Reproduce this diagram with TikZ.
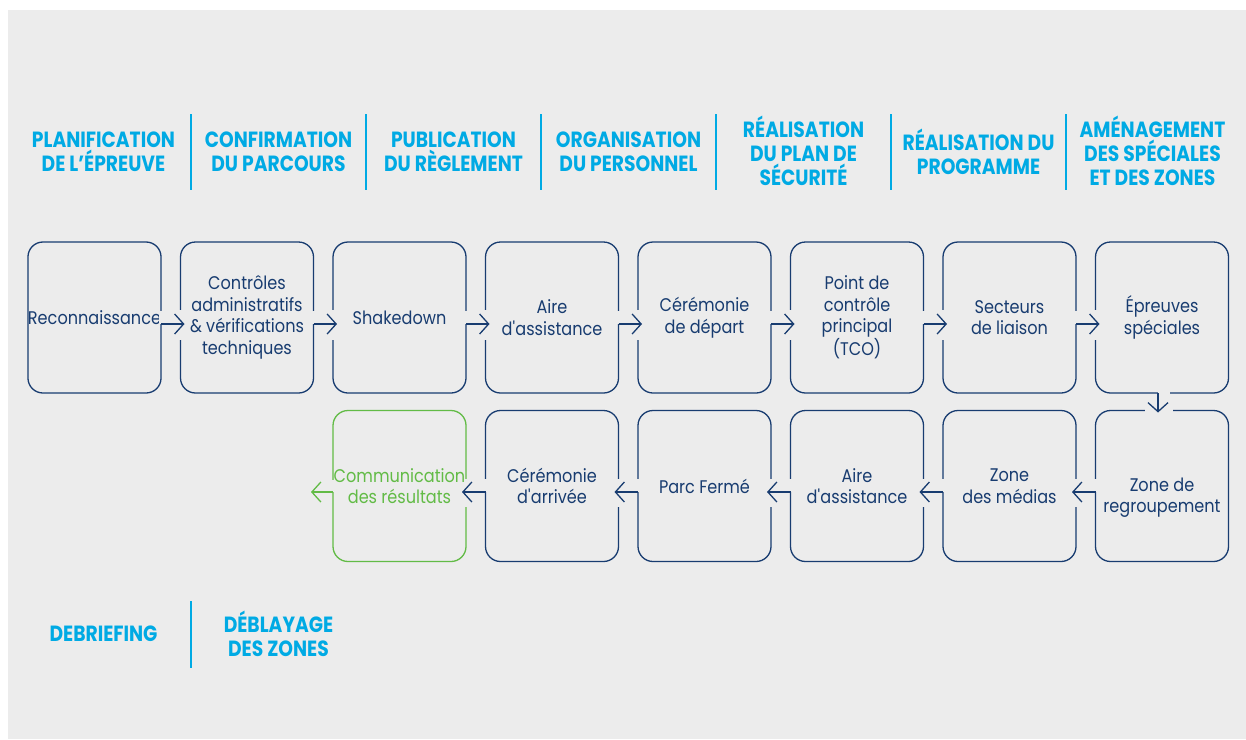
\documentclass[tikz,border=0pt]{standalone}
\usepackage{fontspec}
\newfontfamily\bodyfont{Poppins}[FakeStretch=0.88]
\newfontfamily\hdrfont{Poppins}[FakeStretch=0.85]
\usetikzlibrary{arrows.meta}
\definecolor{bgc}{RGB}{236,236,236}
\definecolor{cyanh}{RGB}{0,170,228}
\definecolor{navy}{RGB}{24,60,112}
\definecolor{grn}{RGB}{98,187,70}
\tikzset{
  box/.style={draw=navy, line width=1.3pt, rounded corners=15pt,
    minimum width=133pt, minimum height=151pt, inner sep=0pt, outer sep=0pt,
    align=center, text=navy, font=\bodyfont\fontsize{18.3}{21.5}\selectfont},
  gbox/.style={box, draw=grn, text=grn},
  txt/.style={align=center, text=navy, inner sep=0pt, font=\bodyfont\fontsize{18.3}{21.5}\selectfont},
  hdr/.style={text=cyanh, align=center, inner sep=0pt,
    font=\hdrfont\bfseries\fontsize{22}{24}\selectfont},
  sepline/.style={draw=cyanh, line width=1.5pt},
  gapc/.style={draw=bgc, line width=3.5pt},
  arr/.style={draw=navy, line width=1.3pt, -{Straight Barb[length=9pt,width=20pt]}},
  garr/.style={arr, draw=grn}
}
\begin{document}
\begin{tikzpicture}[x=1pt,y=-1pt]
\useasboundingbox (0,0) rectangle (1246,739);
\fill[bgc] (8,10) rectangle (1246,739);

% headers
\node[hdr] (h1) at (103.5,152) {PLANIFICATION\\DE L’ÉPREUVE};
\node[hdr] (h2) at (278.5,152) {CONFIRMATION\\DU PARCOURS};
\node[hdr] (h3) at (453.5,152) {PUBLICATION\\DU RÈGLEMENT};
\node[hdr] (h4) at (628.5,152) {ORGANISATION\\DU PERSONNEL};
\node[hdr] (h5) at (803.5,151) {RÉALISATION\\DU PLAN DE\\SÉCURITÉ};
\node[hdr] (h6) at (978.5,152) {RÉALISATION DU\\PROGRAMME};
\node[hdr] (h7) at (1152.5,151) {AMÉNAGEMENT\\DES SPÉCIALES\\ET DES ZONES};
\foreach \x in {191,366,541,716,891,1066} \draw[sepline] (\x,114) -- (\x,190);

% bottom headers
\node[hdr] (h8) at (103.5,634) {DEBRIEFING};
\node[hdr] (h9) at (278.5,634) {DÉBLAYAGE\\DES ZONES};
\draw[sepline] (191,601) -- (191,668);

% row 1
\node[box] (b1) at (94.5,317.5) {Reconnaissance};
\node[box] (b2) at (247,317.5) {Contrôles\\administratifs\\\& vérifications\\techniques};
\node[box] (b3) at (399.5,317.5) {Shakedown};
\node[box] (b4) at (552,317.5) {Aire\\d\textquotesingle assistance};
\node[box] (b5) at (704.5,317.5) {Cérémonie\\de départ};
\node[box] (b6) at (857,317.5) {Point de\\contrôle\\principal\\(TCO)};
\node[box] (b7) at (1009.5,317.5) {Secteurs\\de liaison};
\node[box] (b8) at (1162,317.5) {Épreuves\\spéciales};

% row 2
\node[box] (b9) at (1162,486) {};
\node[txt] (t9) at ([yshift=-11.5pt]b9.center) {Zone de\\regroupement};
\node[box] (b10) at (1009.5,486) {Zone\\des médias};
\node[box] (b11) at (857,486) {Aire\\d\textquotesingle assistance};
\node[box] (b12) at (704.5,486) {Parc Fermé};
\node[box] (b13) at (552,486) {Cérémonie\\d\textquotesingle arrivée};
\node[gbox] (b14) at (399.5,486) {Communication\\des résultats};
\coordinate (gend) at (311,492);

% row 1 connectors (left to right)
\foreach \a/\b in {b1/b2,b2/b3,b3/b4,b4/b5,b5/b6,b6/b7,b7/b8}{
  \draw[gapc] ([yshift=-6.5pt]\a.east) -- ([yshift=7pt]\a.east);
  \draw[gapc] ([yshift=7.5pt]\b.west) -- ([yshift=-22.5pt]\b.west);
  \draw[arr] ([yshift=-6.5pt]\a.east) -- ([yshift=-6.5pt,xshift=4pt]\b.west);
}
% down connector
\draw[gapc] ([xshift=-4pt]b8.south) -- ([xshift=8pt]b8.south);
\draw[gapc] ([xshift=-17pt]b9.north) -- ([xshift=11pt]b9.north);
\draw[arr] ([xshift=-4pt]b8.south) -- ([xshift=-4pt,yshift=-2pt]b9.north);

% row 2 connectors (right to left)
\foreach \a/\b in {b9/b10,b10/b11,b11/b12,b12/b13,b13/b14}{
  \draw[gapc] ([yshift=-6pt]\a.west) -- ([yshift=7pt]\a.west);
  \draw[gapc] ([yshift=7pt]\b.east) -- ([yshift=-21pt]\b.east);
  \draw[arr] ([yshift=-6pt]\a.west) -- ([yshift=-6pt,xshift=-4pt]\b.east);
}
\draw[gapc] ([yshift=-6pt]b14.west) -- ([yshift=6pt]b14.west);
\draw[garr] ([yshift=-6pt]b14.west) -- (gend);
\end{tikzpicture}
\end{document}
